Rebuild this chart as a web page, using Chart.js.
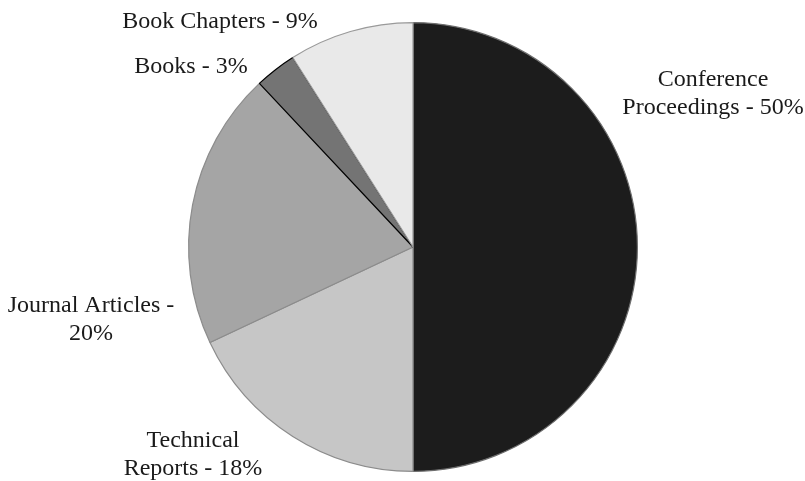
<!DOCTYPE html>
<html>
<head>
<meta charset="utf-8">
<script src="https://cdn.jsdelivr.net/npm/chart.js@4/dist/chart.umd.min.js"></script>
<style>
  html, body { margin: 0; padding: 0; background: #ffffff; }
  #wrap { width: 805px; height: 481px; position: relative; }
</style>
</head>
<body>
<div id="wrap"><canvas id="chart"></canvas></div>
<script>
// slices, clockwise from 12 o'clock
const categories = ['Conference Proceedings', 'Technical Reports', 'Journal Articles', 'Books', 'Book Chapters'];
const shares = [50, 18, 20, 3, 9];
// label text lines as printed on the chart
const labelLines = [
  ['Conference', 'Proceedings - 50%'],
  ['Technical', 'Reports - 18%'],
  ['Journal Articles -', '20%'],
  ['Books - 3%'],
  ['Book Chapters - 9%']
];
const fills = ['#1c1c1c', '#c6c6c6', '#a5a5a5', '#747474', '#e9e9e9'];
const edges = ['#6e6e6e', '#8c8c8c', '#8c8c8c', '#000000', '#9a9a9a'];

// where each label sits, relative to the pie centre (first baseline)
const labelOffsets = [[300, -161], [-220, 200], [-322, 65], [-222, -174], [-193, -219]];

const outsideLabels = {
  id: 'outsideLabels',
  afterDatasetsDraw(chart) {
    const ctx = chart.ctx;
    const arc = chart.getDatasetMeta(0).data[0];
    ctx.save();
    ctx.font = '24px "Liberation Serif", "Times New Roman", serif';
    ctx.fillStyle = '#1a1a1a';
    ctx.textAlign = 'center';
    ctx.textBaseline = 'alphabetic';
    labelLines.forEach((lines, i) => {
      const [dx, dy] = labelOffsets[i];
      lines.forEach((t, j) => {
        ctx.fillText(t, arc.x + dx, arc.y + dy + j * 28);
      });
    });
    ctx.restore();
  }
};

new Chart(document.getElementById('chart'), {
  type: 'pie',
  data: {
    labels: categories,
    datasets: [{
      data: shares,
      backgroundColor: fills,
      borderColor: edges,
      borderWidth: 1.2
    }]
  },
  options: {
    responsive: true,
    maintainAspectRatio: false,
    animation: false,
    rotation: 0,
    layout: { padding: { left: 188, right: 167, top: 22, bottom: 9 } },
    plugins: {
      legend: { display: false },
      tooltip: { enabled: false }
    }
  },
  plugins: [outsideLabels]
});
</script>
</body>
</html>
